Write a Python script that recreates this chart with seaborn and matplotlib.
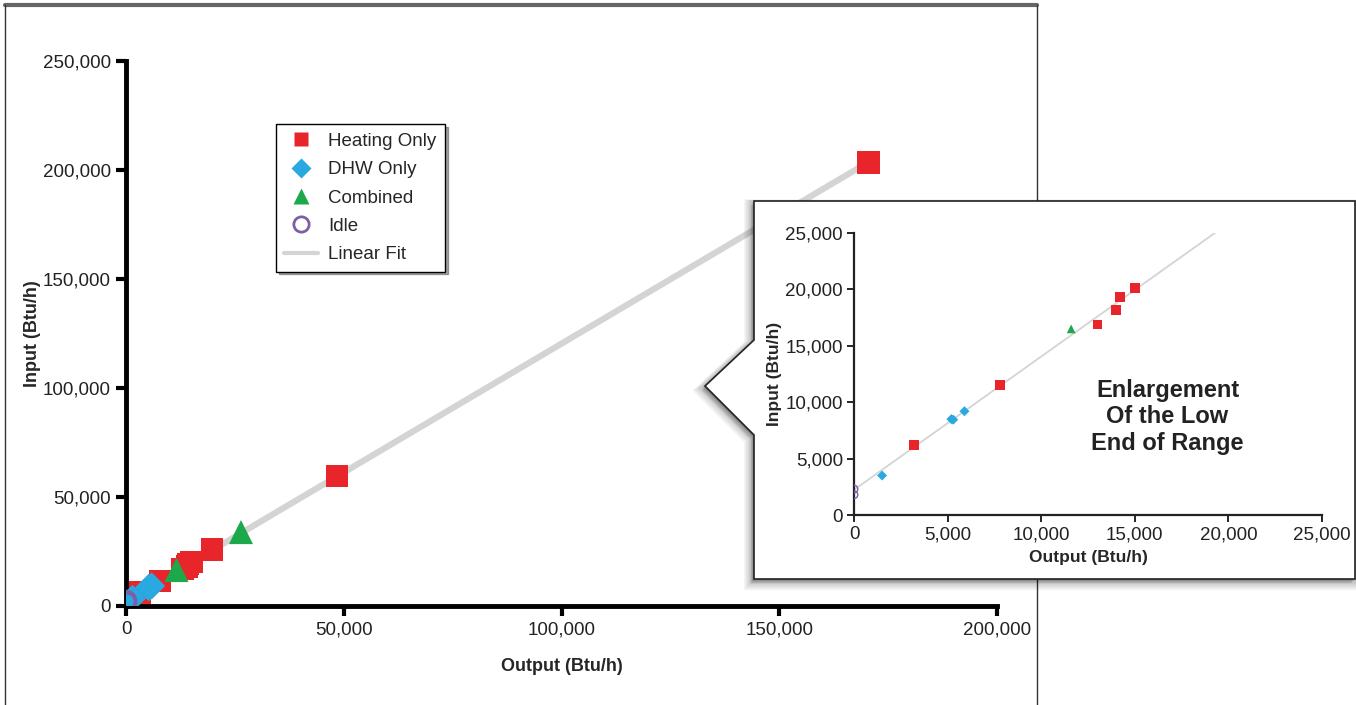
import numpy as np
import pandas as pd
import seaborn as sns
import matplotlib.pyplot as plt
from matplotlib.patches import Polygon
from matplotlib.lines import Line2D

# values (Btu/h)
heat_out = [3200, 7800, 13000, 14000, 14200, 15000, 19800, 48500, 170500]
heat_in = [6200, 11500, 16900, 18200, 19300, 20100, 26000, 59600, 203500]
dhw_out = [1500, 5200, 5300, 5900]
dhw_in = [3500, 8500, 8450, 9200]
comb_out = [11600, 26400]
comb_in = [16500, 33900]
idle_out = [0, 0]
idle_in = [2300, 1800]

main_xticks = [0, 50000, 100000, 150000, 200000]
main_yticks = [0, 50000, 100000, 150000, 200000, 250000]
inset_ticks = [0, 5000, 10000, 15000, 20000, 25000]

groups = ['Heating Only', 'DHW Only', 'Combined', 'Idle']
colors = {'Heating Only': '#e8252b', 'DHW Only': '#2aa9e0',
          'Combined': '#1ea84c', 'Idle': '#7d5ea8'}
markers = {'Heating Only': 's', 'DHW Only': 'D', 'Combined': '^', 'Idle': 'o'}
fit_color = '#d4d4d4'

df = pd.concat([
    pd.DataFrame({'out': heat_out, 'inp': heat_in, 'mode': 'Heating Only'}),
    pd.DataFrame({'out': dhw_out, 'inp': dhw_in, 'mode': 'DHW Only'}),
    pd.DataFrame({'out': comb_out, 'inp': comb_in, 'mode': 'Combined'}),
    pd.DataFrame({'out': idle_out, 'inp': idle_in, 'mode': 'Idle'}),
], ignore_index=True)

slope, icpt = np.polyfit(df['out'], df['inp'], 1)
fit = pd.DataFrame({'out': [0, max(heat_out)]})
fit['inp'] = icpt + slope * fit['out']

sns.set_style('ticks')
plt.rcParams['font.family'] = ['Liberation Sans', 'DejaVu Sans']

W, H = 1356, 705
fig = plt.figure(figsize=(W / 100, H / 100), dpi=100)


def px(x, y):
    return (x / W, 1 - y / H)


def draw_points(ax, sizes, circ_lw):
    for g in groups:
        d = df[df['mode'] == g]
        if g == 'Idle':
            sns.scatterplot(data=d, x='out', y='inp', ax=ax, marker='o', s=sizes[g],
                            facecolor='none', edgecolor=colors[g], linewidth=circ_lw,
                            zorder=4)
        else:
            sns.scatterplot(data=d, x='out', y='inp', ax=ax, marker=markers[g],
                            s=sizes[g], color=colors[g], edgecolor='none', zorder=3)


# main chart
ax = fig.add_axes([126 / W, (H - 606) / H, 871 / W, 545 / H])
ax.set_zorder(0)
sns.lineplot(data=fit, x='out', y='inp', ax=ax, color=fit_color, linewidth=4.5, zorder=2)
draw_points(ax, {'Heating Only': 260, 'DHW Only': 190, 'Combined': 300, 'Idle': 190}, 2.5)
ax.set_xlim(0, 200000)
ax.set_ylim(0, 250000)
ax.set_xticks(main_xticks)
ax.set_yticks(main_yticks)
ax.set_xticklabels([f'{v:,}' for v in main_xticks], fontsize=13.5)
ax.set_yticklabels([f'{v:,}' for v in main_yticks], fontsize=13.5)
ax.tick_params(width=3, length=7, pad=4, color='black', labelcolor='#222222')
sns.despine(ax=ax)
for s in ['left', 'bottom']:
    ax.spines[s].set_linewidth(3.5)
    ax.spines[s].set_color('black')
ax.set_xlabel('Output (Btu/h)', fontsize=13, fontweight='bold', labelpad=14)
ax.set_ylabel('Input (Btu/h)', fontsize=13, fontweight='bold', labelpad=1)

handles = [Line2D([], [], linestyle='none', marker='s', markersize=10,
                  markerfacecolor=colors['Heating Only'], markeredgecolor='none'),
           Line2D([], [], linestyle='none', marker='D', markersize=10,
                  markerfacecolor=colors['DHW Only'], markeredgecolor='none'),
           Line2D([], [], linestyle='none', marker='^', markersize=11,
                  markerfacecolor=colors['Combined'], markeredgecolor='none'),
           Line2D([], [], linestyle='none', marker='o', markersize=11,
                  markerfacecolor='none', markeredgecolor=colors['Idle'],
                  markeredgewidth=2),
           Line2D([], [], color=fit_color, linewidth=3)]
leg = ax.legend(handles, groups + ['Linear Fit'], loc='upper left',
                bbox_to_anchor=(0.172, 0.884), borderaxespad=0, fontsize=13.5,
                frameon=True, fancybox=False, shadow=True, handlelength=1.8,
                labelspacing=0.6, borderpad=0.45, handletextpad=0.55)
leg.get_frame().set_edgecolor('black')
leg.get_frame().set_linewidth(1)

# outer frame
for xs, ys, lw, c in [([5, 1037], [5, 5], 3, '#666666'),
                      ([5, 5], [5, 705], 1, '#333333'),
                      ([1037, 1037], [5, 705], 1, '#333333')]:
    fig.add_artist(Line2D([x / W for x in xs], [1 - y / H for y in ys],
                          linewidth=lw, color=c, zorder=0.5))

# callout box with pointer
box = [(754, 201), (1355, 201), (1355, 579), (754, 579), (754, 435), (705, 386), (754, 340)]
for k in range(6, 0, -1):
    sh = Polygon([px(x - k * 0.6, y + k * 0.8) for x, y in box], closed=True,
                 facecolor='black', edgecolor='black', linewidth=k * 1.5,
                 alpha=0.05, zorder=1)
    fig.add_artist(sh)
fig.add_artist(Polygon([px(x, y) for x, y in box], closed=True, facecolor='white',
                       edgecolor='#222222', linewidth=1.2, zorder=1.1))

# inset chart
ax2 = fig.add_axes([854 / W, (H - 515) / H, 468 / W, 282 / H])
ax2.set_zorder(2)
ax2.patch.set_alpha(0)
sns.lineplot(data=fit, x='out', y='inp', ax=ax2, color=fit_color, linewidth=1.3, zorder=2)
draw_points(ax2, {'Heating Only': 48, 'DHW Only': 26, 'Combined': 40, 'Idle': 30}, 1.0)
ax2.set_xlim(0, 25000)
ax2.set_ylim(0, 25000)
ax2.set_xticks(inset_ticks)
ax2.set_yticks(inset_ticks)
ax2.set_xticklabels([f'{v:,}' for v in inset_ticks], fontsize=13.5)
ax2.set_yticklabels([f'{v:,}' for v in inset_ticks], fontsize=13.5)
ax2.tick_params(width=1.2, length=5, pad=3, color='black', labelcolor='#222222')
sns.despine(ax=ax2)
for s in ['left', 'bottom']:
    ax2.spines[s].set_linewidth(1.6)
    ax2.spines[s].set_color('#222222')
ax2.set_xlabel('Output (Btu/h)', fontsize=12.5, fontweight='bold', labelpad=5)
ax2.set_ylabel('Input (Btu/h)', fontsize=12.5, fontweight='bold', labelpad=2)
ax2.text(0.67, 0.348, 'Enlargement\nOf the Low\nEnd of Range', transform=ax2.transAxes,
         ha='center', va='center', fontsize=17, fontweight='bold', color='#222222',
         linespacing=1.2)

fig.savefig('out.png', dpi=100)
